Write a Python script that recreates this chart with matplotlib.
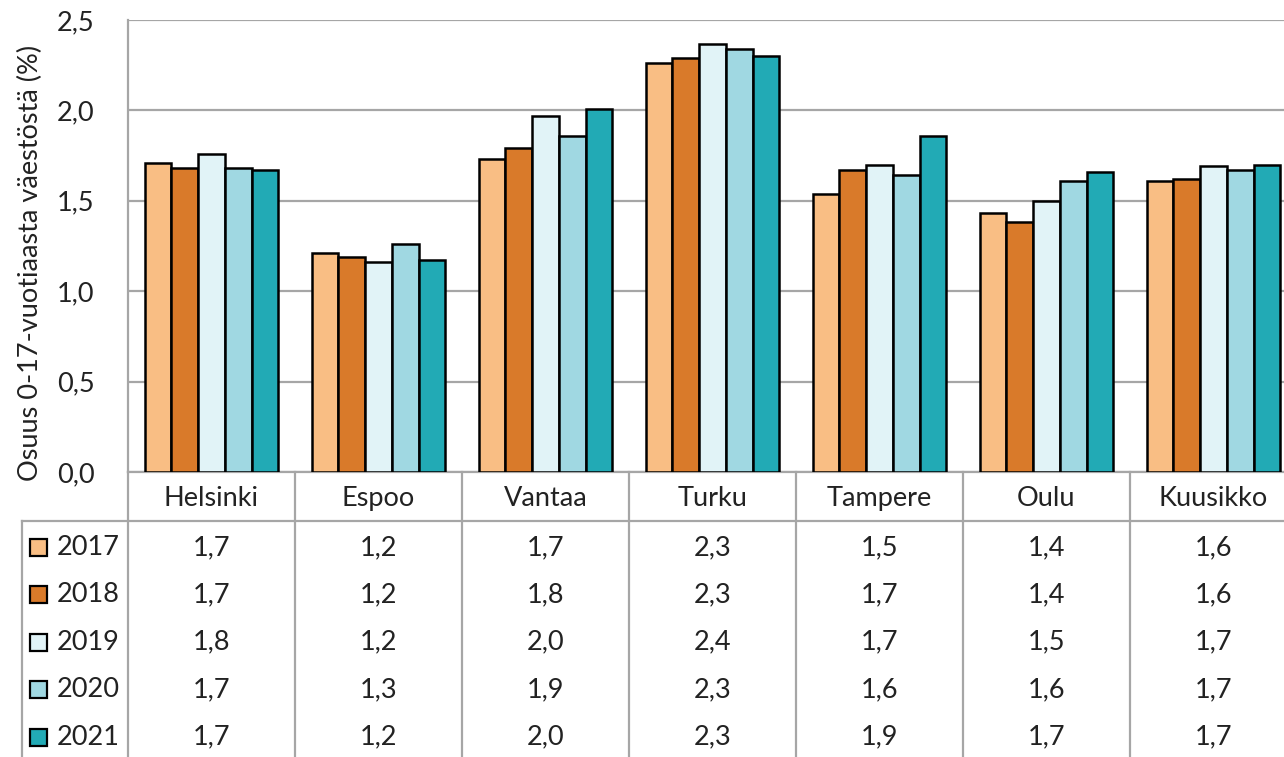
import numpy as np
import matplotlib.pyplot as plt
from matplotlib.patches import Rectangle

cities = ["Helsinki", "Espoo", "Vantaa", "Turku", "Tampere", "Oulu", "Kuusikko"]
years = ["2017", "2018", "2019", "2020", "2021"]
v2017 = [1.71, 1.21, 1.73, 2.26, 1.54, 1.43, 1.61]
v2018 = [1.68, 1.19, 1.79, 2.29, 1.67, 1.38, 1.62]
v2019 = [1.76, 1.16, 1.97, 2.37, 1.70, 1.50, 1.69]
v2020 = [1.68, 1.26, 1.86, 2.34, 1.64, 1.61, 1.67]
v2021 = [1.67, 1.17, 2.01, 2.30, 1.86, 1.66, 1.70]
series = [v2017, v2018, v2019, v2020, v2021]
colors = ["#F9BE84", "#D97A2A", "#E1F3F7", "#A0D8E2", "#22AAB5"]

plt.rcParams['font.family'] = ['Lato', 'DejaVu Sans']
fs = 19.5
grid_c = "#A6A6A6"

W, H = 1284, 757
fig = plt.figure(figsize=(W / 100, H / 100), dpi=100)

# plot area in pixels (right part runs past the image edge, as in the reference)
x0, y_top, y_bot = 128, 20, 472
cell_w = 167
ax = fig.add_axes([x0 / W, 1 - y_bot / H, 7 * cell_w / W, (y_bot - y_top) / H])

x = np.arange(len(cities))
bw = 0.16
for j, vals in enumerate(series):
    ax.bar(x + (j - 2) * bw, vals, bw, color=colors[j], edgecolor="black",
           linewidth=1.8, zorder=3, label=years[j])

ax.set_xlim(-0.5, 6.5)
ax.set_ylim(0, 2.5)
ax.set_yticks(np.arange(0, 2.51, 0.5))
ax.set_yticklabels([f"{t:.1f}".replace(".", ",") for t in np.arange(0, 2.51, 0.5)],
                   fontsize=fs, color="#222222")
ax.tick_params(axis="y", length=0, pad=24)
ax.set_xticks([])
ax.grid(axis="y", color=grid_c, linewidth=1.6, zorder=0)
for s in ["top", "right"]:
    ax.spines[s].set_visible(False)
for s in ["left", "bottom"]:
    ax.spines[s].set_color(grid_c)
    ax.spines[s].set_linewidth(1.6)

fig.text(30 / W, 1 - 263 / H, "Osuus 0-17-vuotiaasta väestöstä (%)", rotation=90,
         ha="center", va="center", fontsize=19.5, color="#222222")

# data table below the plot, drawn in pixel coordinates
tab = fig.add_axes([0, 0, 1, 1])
tab.set_xlim(0, W)
tab.set_ylim(H, 0)
tab.axis("off")
tab.patch.set_visible(False)

head_bot = 521
row_h = 47.4
row0 = 547.5
leg_x = 22
lw = 1.6

tab.plot([leg_x, x0 + 7 * cell_w], [head_bot, head_bot], color=grid_c, lw=lw)
tab.plot([leg_x, leg_x], [head_bot, H], color=grid_c, lw=lw)
for k in range(8):
    xl = x0 + k * cell_w
    tab.plot([xl, xl], [y_bot, H], color=grid_c, lw=lw)

for i, c in enumerate(cities):
    tab.text(x0 + (i + 0.5) * cell_w, (y_bot + head_bot) / 2 + 2, c,
             ha="center", va="center", fontsize=fs, color="#222222")

for j, vals in enumerate(series):
    yc = row0 + j * row_h
    tab.add_patch(Rectangle((30, yc - 8.5), 17, 17, facecolor=colors[j],
                            edgecolor="black", lw=1.6))
    tab.text(57, yc, years[j], ha="left", va="center", fontsize=fs, color="#222222")
    for i, v in enumerate(vals):
        tab.text(x0 + (i + 0.5) * cell_w, yc, f"{v:.1f}".replace(".", ","),
                 ha="center", va="center", fontsize=fs, color="#222222")

fig.savefig("out.png", dpi=100)
